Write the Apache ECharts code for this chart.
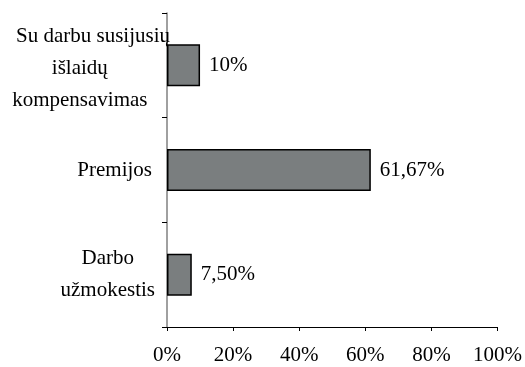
<!DOCTYPE html>
<html>
<head>
<meta charset="utf-8">
<script src="https://cdn.jsdelivr.net/npm/echarts@6/dist/echarts.min.js"></script>
<style>html,body{margin:0;padding:0;background:#fff}#c{width:525px;height:367px}</style>
</head>
<body>
<div id="c"></div>
<script>
var categories = ['Darbo\nužmokestis', 'Premijos', 'Su darbu susijusių\nišlaidų\nkompensavimas'];
var values = [7.5, 61.67, 10];
var xTicks = [0, 20, 40, 60, 80, 100];

var FONT = 'Liberation Serif';
var FS = 21;
var chart = echarts.init(document.getElementById('c'));
function fmtPct(v) {
  return (Number.isInteger(v) ? String(v) : v.toFixed(2).replace('.', ',')) + '%';
}
var styleKeys = ['d', 'p', 't'];
var catData = categories.map(function (c, i) {
  return i === 2 ? { value: c, textStyle: { padding: [6, 0, 0, 0] } } : c;
});
function rs(align, padRight) {
  return { align: align, padding: [0, padRight, 0, 0], lineHeight: 32, fontFamily: FONT, fontSize: FS, color: '#000' };
}
chart.setOption({
  animation: false,
  grid: { left: 167, right: 26, top: 13, bottom: 40 },
  xAxis: {
    type: 'value', min: xTicks[0], max: xTicks[xTicks.length - 1], interval: 20,
    axisLine: { show: true, lineStyle: { color: '#000', width: 1 } },
    axisTick: { show: true, length: 4, lineStyle: { color: '#000' } },
    splitLine: { show: false },
    axisLabel: { formatter: function (v) { return v + '%'; }, margin: 18, color: '#000', fontFamily: FONT, fontSize: FS }
  },
  yAxis: {
    type: 'category', data: catData,
    axisLine: { show: true, lineStyle: { color: '#808080', width: 1.5 } },
    axisTick: { show: true, length: 5, lineStyle: { color: '#000' } },
    axisLabel: {
      margin: -3, color: '#000', fontFamily: FONT, fontSize: FS,
      formatter: function (v, i) {
        var lines = v.split('\n');
        return lines.map(function (l, j) {
          var k = styleKeys[i];
          if (k === 't' && j === 0) k = 't1';
          return '{' + k + '|' + l + '}';
        }).join('\n');
      },
      rich: {
        d: rs('center', 15),
        p: rs('right', 18),
        t1: rs('right', 0),
        t: rs('center', 22.5)
      }
    }
  },
  series: [{
    type: 'bar', data: values, barWidth: 42,
    itemStyle: { color: '#7a7e7f', borderColor: '#000', borderWidth: 1.5 },
    label: { show: true, position: 'right', distance: 9, color: '#000', fontFamily: FONT, fontSize: FS,
      formatter: function (p) { return fmtPct(p.value); } }
  }]
});
</script>
</body>
</html>
